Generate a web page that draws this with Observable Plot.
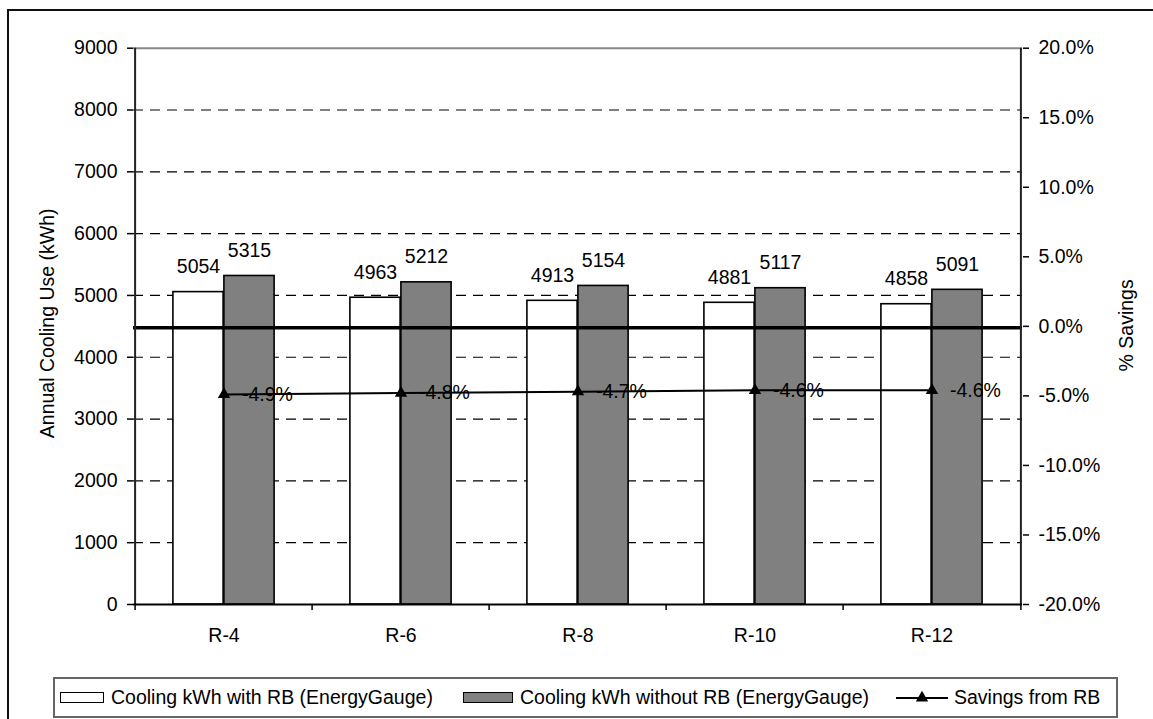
<!DOCTYPE html>
<html>
<head>
<meta charset="utf-8">
<script src="https://cdn.jsdelivr.net/npm/d3@7"></script>
<script src="https://cdn.jsdelivr.net/npm/@observablehq/plot@0.6"></script>
<style>
  body { margin: 0; background: #fff; font-family: "Liberation Sans", Arial, sans-serif; }
  #page { position: relative; width: 1153px; height: 719px; overflow: hidden; background: #fff; }
  #border { position: absolute; left: 7px; top: 9px; width: 1300px; height: 900px;
            border-top: 2px solid #111; border-left: 2px solid #111; }
  #chart { position: absolute; left: 0; top: 0; }
  #legend { position: absolute; left: 53px; top: 677px; width: 1065px; height: 41px;
            border: 2px solid #666; box-sizing: border-box; font-size: 19.5px; color: #000; }
  .item { position: absolute; top: 0; height: 100%; display: flex; align-items: center; white-space: nowrap; }
  .swatch { display: inline-block; height: 9px; border: 1.5px solid #000; margin-right: 7px; }
</style>
</head>
<body>
<div id="page">
  <div id="border"></div>
  <div id="chart"></div>
  <div id="legend"></div>
</div>
<script>
// Insulation levels on the category axis
const categories = ["R-4", "R-6", "R-8", "R-10", "R-12"];
// Annual cooling use, kWh
const coolingWithRB = [5054, 4963, 4913, 4881, 4858];
const coolingWithoutRB = [5315, 5212, 5154, 5117, 5091];
// Savings from the radiant barrier, percent
const savingsPct = [-4.9, -4.8, -4.7, -4.6, -4.6];
// Axis ticks
const kwhTicks = [0, 1000, 2000, 3000, 4000, 5000, 6000, 7000, 8000, 9000];
const pctTicks = [-20, -15, -10, -5, 0, 5, 10, 15, 20];
const seriesNames = [
  "Cooling kWh with RB (EnergyGauge)",
  "Cooling kWh without RB (EnergyGauge)",
  "Savings from RB"
];

const rows = categories.map((c, i) => ({
  category: c,
  withRB: coolingWithRB[i],
  withoutRB: coolingWithoutRB[i],
  savings: savingsPct[i]
}));

// Layout
const W = 1153, H = 665;
const mL = 133, mR = 131, mT = 47.7, mB = 61;
const bw = (W - mL - mR) / categories.length;  // band width
const barW = 51;

// The percent axis shares the kWh scale: -20%..20% spans 0..9000
const kwhMax = kwhTicks[kwhTicks.length - 1];
const pMin = pctTicks[0], pMax = pctTicks[pctTicks.length - 1];
const pctToKwh = p => (p - pMin) / (pMax - pMin) * kwhMax;
const kwhToPct = v => v / kwhMax * (pMax - pMin) + pMin;

const chart = Plot.plot({
  width: W,
  height: H,
  marginLeft: mL,
  marginRight: mR,
  marginTop: mT,
  marginBottom: mB,
  style: { fontFamily: "'Liberation Sans', Arial, sans-serif", fontSize: "19.5px", color: "#000", background: "transparent" },
  x: { type: "band", domain: categories, padding: 0 },
  y: { domain: [0, kwhMax] },
  marks: [
    // gridlines
    Plot.ruleY(kwhTicks.filter(d => d > 0 && d < kwhMax), { stroke: "#000", strokeWidth: 1.2, strokeDasharray: "10,7" }),
    Plot.ruleY([kwhMax], { stroke: "#888", strokeWidth: 2 }),
    // bars
    Plot.barY(rows, {
      x: "category", y: "withRB", fill: "#fff", stroke: "#000", strokeWidth: 1.6,
      insetLeft: bw / 2 - barW, insetRight: bw / 2
    }),
    Plot.barY(rows, {
      x: "category", y: "withoutRB", fill: "#808080", stroke: "#000", strokeWidth: 1.6,
      insetLeft: bw / 2, insetRight: bw / 2 - barW
    }),
    // value labels
    Plot.text(rows, { x: "category", y: "withRB", text: d => String(d.withRB), dx: -barW / 2, dy: -19, lineAnchor: "bottom" }),
    Plot.text(rows, { x: "category", y: "withoutRB", text: d => String(d.withoutRB), dx: barW / 2, dy: -19, lineAnchor: "bottom" }),
    // 0% reference line
    Plot.ruleY([pctToKwh(0)], { stroke: "#000", strokeWidth: 3.5, dy: 1.5 }),
    // savings series
    Plot.lineY(rows, { x: "category", y: d => pctToKwh(d.savings), stroke: "#000", strokeWidth: 2 }),
    Plot.dot(rows, { x: "category", y: d => pctToKwh(d.savings), symbol: "triangle", r: 4.6, fill: "#000", stroke: "none" }),
    Plot.text(rows, { x: "category", y: d => pctToKwh(d.savings), text: d => d.savings.toFixed(1) + "%", dx: 18, textAnchor: "start" }),
    // axis lines
    Plot.ruleX([categories[0]], { dx: -bw / 2, stroke: "#222", strokeWidth: 2 }),
    Plot.ruleX([categories[categories.length - 1]], { dx: bw / 2, stroke: "#222", strokeWidth: 2 }),
    Plot.ruleY([0], { stroke: "#000", strokeWidth: 2 }),
    // axes
    Plot.axisY({ anchor: "left", ticks: kwhTicks, tickSize: 6, tickPadding: 10, tickFormat: d3.format("d"), label: null, stroke: "#000", strokeWidth: 1.5 }),
    Plot.axisY({ anchor: "right", ticks: pctTicks.map(pctToKwh), tickSize: 6, tickPadding: 10,
      tickFormat: v => kwhToPct(v).toFixed(1) + "%", label: null, stroke: "#000", strokeWidth: 1.5 }),
    Plot.axisX({ ticks: categories, tickSize: 6, tickFormat: () => "", dx: -bw / 2, label: null, stroke: "#000", strokeWidth: 1.5 }),
    Plot.axisX({ ticks: [categories[categories.length - 1]], tickSize: 6, tickFormat: () => "", dx: bw / 2, label: null, stroke: "#000", strokeWidth: 1.5 }),
    Plot.axisX({ ticks: categories, tickSize: 0, tickPadding: 24, label: null }),
    // axis titles
    Plot.text(["Annual Cooling Use (kWh)"], { text: d => d, frameAnchor: "left", textAnchor: "middle", lineAnchor: "middle", rotate: -90, dx: -86, dy: -3 }),
    Plot.text(["% Savings"], { text: d => d, frameAnchor: "right", textAnchor: "middle", lineAnchor: "middle", rotate: -90, dx: 104, dy: -1 })
  ]
});
document.getElementById("chart").appendChild(chart);

// Legend
const legend = document.getElementById("legend");
const legendItems = [
  { left: 5, swatch: "box", fill: "#fff", width: 42 },
  { left: 408, swatch: "box", fill: "#808080", width: 48 },
  { left: 841, swatch: "line" }
];
legendItems.forEach((it, i) => {
  const item = document.createElement("div");
  item.className = "item";
  item.style.left = it.left + "px";
  if (it.swatch === "box") {
    const sw = document.createElement("span");
    sw.className = "swatch";
    sw.style.width = it.width + "px";
    sw.style.background = it.fill;
    item.appendChild(sw);
  } else {
    const svg = d3.create("svg").attr("width", 52).attr("height", 16).style("margin-right", "6px");
    svg.append("line").attr("x1", 0).attr("x2", 52).attr("y1", 8).attr("y2", 8).attr("stroke", "#000").attr("stroke-width", 2);
    svg.append("path").attr("d", d3.symbol(d3.symbolTriangle, 66)()).attr("transform", "translate(26,8)").attr("fill", "#000");
    item.appendChild(svg.node());
  }
  const label = document.createElement("span");
  label.textContent = seriesNames[i];
  item.appendChild(label);
  legend.appendChild(item);
});
</script>
</body>
</html>
